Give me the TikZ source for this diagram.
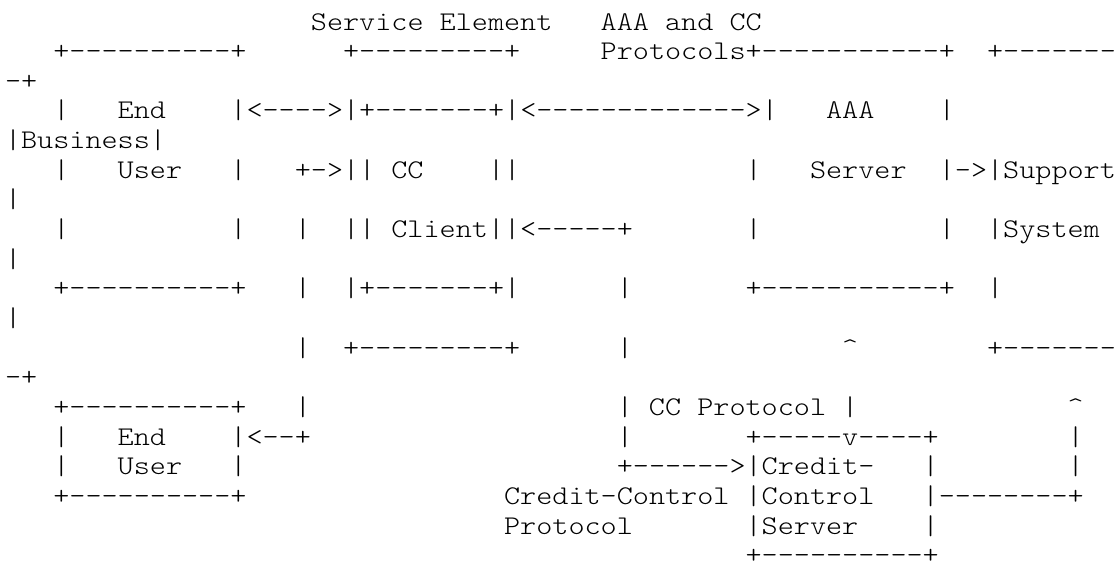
\documentclass[tikz,border=0pt]{standalone}
\usepackage{fontspec}
\setmonofont{lmmonolt10-regular.otf}[FakeStretch=1.136]
\tikzset{
  asc/.style={anchor=base west, inner sep=0pt, outer sep=0pt,
    font=\ttfamily\fontsize{20.25pt}{22pt}\selectfont, text=black}
}
\newcommand\asline[3]{\node[asc] (r#1c#2) at ({5+16.1*#2},{30+29.65*(#1-1)}) {#3};}
\begin{document}
\begin{tikzpicture}[x=0.75pt,y=-0.75pt]
\fill[white] (0,0) rectangle (1119,571);
\useasboundingbox (0,0) rectangle (1119,571);
% row 1
\asline{1}{19}{Service Element}
\asline{1}{37}{AAA and CC}
% row 2
\asline{2}{3}{+----------+}
\asline{2}{21}{+---------+}
\asline{2}{37}{Protocols+-----------+}
\asline{2}{61}{+-------}
% row 3
\asline{3}{0}{-+}
% row 4
\asline{4}{3}{|}
\asline{4}{7}{End}
\asline{4}{14}{|<---->|+-------+|<------------->|}
\asline{4}{51}{AAA}
\asline{4}{58}{|}
% row 5
\asline{5}{0}{|Business|}
% row 6
\asline{6}{3}{|}
\asline{6}{7}{User}
\asline{6}{14}{|}
\asline{6}{18}{+->|| CC}
\asline{6}{30}{||}
\asline{6}{46}{|}
\asline{6}{50}{Server}
\asline{6}{58}{|->|Support}
% row 7
\asline{7}{0}{|}
% row 8
\asline{8}{3}{|}
\asline{8}{14}{|}
\asline{8}{18}{|}
\asline{8}{21}{|| Client||<-----+}
\asline{8}{46}{|}
\asline{8}{58}{|}
\asline{8}{61}{|System}
% row 9
\asline{9}{0}{|}
% row 10
\asline{10}{3}{+----------+}
\asline{10}{18}{|}
\asline{10}{21}{|+-------+|}
\asline{10}{38}{|}
\asline{10}{46}{+-----------+}
\asline{10}{61}{|}
% row 11
\asline{11}{0}{|}
% row 12
\asline{12}{18}{|}
\asline{12}{21}{+---------+}
\asline{12}{38}{|}
\asline{12}{52}{\textasciicircum}
\asline{12}{61}{+-------}
% row 13
\asline{13}{0}{-+}
% row 14
\asline{14}{3}{+----------+}
\asline{14}{18}{|}
\asline{14}{38}{| CC Protocol |}
\asline{14}{66}{\textasciicircum}
% row 15
\asline{15}{3}{|}
\asline{15}{7}{End}
\asline{15}{14}{|<--+}
\asline{15}{38}{|}
\asline{15}{46}{+-----v----+}
\asline{15}{66}{|}
% row 16
\asline{16}{3}{|}
\asline{16}{7}{User}
\asline{16}{14}{|}
\asline{16}{38}{+------>|Credit-}
\asline{16}{57}{|}
\asline{16}{66}{|}
% row 17
\asline{17}{3}{+----------+}
\asline{17}{31}{Credit-Control |Control}
\asline{17}{57}{|--------+}
% row 18
\asline{18}{31}{Protocol}
\asline{18}{46}{|Server}
\asline{18}{57}{|}
% row 19
\asline{19}{46}{+----------+}
\end{tikzpicture}
\end{document}
